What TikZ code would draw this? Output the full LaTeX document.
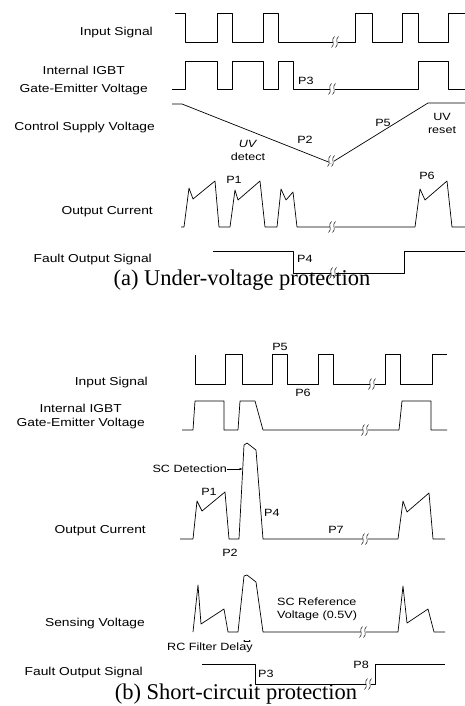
\documentclass[tikz,border=0pt]{standalone}
\usepackage{fontspec}
\usepackage{tikz}
\usetikzlibrary{arrows.meta}
\newfontfamily\lblfont[FakeStretch=1.2]{Liberation Sans}
\newfontfamily\capfont{Liberation Serif}

\begin{document}
\begin{tikzpicture}[
    x=1pt, y=-1pt,
    wave/.style={line width=0.7pt, line join=round},
    sig/.style={font=\lblfont\fontsize{11.5}{14}\selectfont, anchor=east, align=center, inner sep=0pt},
    tag/.style={font=\lblfont\fontsize{10.5}{13}\selectfont, inner sep=0pt},
    capt/.style={font=\capfont\fontsize{22.5}{26}\selectfont, anchor=base, inner sep=0pt},
    tip/.style={line width=0.5pt, -{Latex[length=3pt,width=2.5pt]}},
    brkmark/.pic={
        \fill[white] (-2.5,-1.5) rectangle (2.5,1.5);
        \foreach \dx in {-2,2}
            \draw[line width=0.5pt] (\dx+1.5,-5.5) .. controls (\dx-2.5,-3) and (\dx+2.5,3) .. (\dx-1.5,5.5);
    }
]
\useasboundingbox (0,0) rectangle (465,706);

% (a) under-voltage
\node[sig] (inA) at (153,33) {Input Signal};
\node[sig] (gateA) at (148,81) {Internal IGBT\\[4pt]Gate-Emitter Voltage};
\node[sig] (supA) at (155,128) {Control Supply Voltage};
\node[sig] (curA) at (153,212) {Output Current};
\node[sig] (fltA) at (152,260) {Fault Output Signal};

\draw[wave] (175,13) -- (185,13) -- (185,42) -- (217,42) -- (217,13) -- (232,13) -- (232,42) -- (263,42) -- (263,13) -- (278,13) -- (278,42) -- (355,42) -- (355,13) -- (372,13) -- (372,42) -- (402,42) -- (402,13) -- (418,13) -- (418,42) -- (448,42) -- (448,13) -- (465,13);
\draw[wave] (172,89) -- (185,89) -- (185,61) -- (217,61) -- (217,89) -- (232,89) -- (232,61) -- (263,61) -- (263,89) -- (278,89) -- (278,61) -- (293,61) -- (293,89) -- (418,89) -- (418,61) -- (448,61) -- (448,89) -- (465,89);
\draw[wave] (172,104) -- (182,104) -- (331,163) -- (428,103) -- (465,103);
\draw[wave] (181,227) -- (184,227) -- (189,188) -- (193,199) -- (215,181) -- (219,227) -- (230,227) -- (235,190) -- (238,200) -- (260,181) -- (265,227) -- (277,227) -- (281,189) -- (286,200) -- (293,192) -- (297,227) -- (415,227) -- (420,189) -- (425,200) -- (447,181) -- (452,227) -- (465,227);
\draw[wave] (213,251) -- (293,251) -- (293,273) -- (404,273) -- (404,251) -- (465,251);

\node[tag, anchor=west] (p3A) at (298,81) {P3};
\node[tag, align=center] (uvdet) at (248,150) {\textit{UV}\\detect};
\node[tag] (p2A) at (305,140) {P2};
\node[tag] (p5A) at (383,123) {P5};
\node[tag, align=center] (uvres) at (442,123) {UV\\reset};
\node[tag] (p1A) at (234,180) {P1};
\node[tag] (p6A) at (427,176) {P6};
\node[tag, anchor=west] (p4A) at (297,259) {P4};

\node[capt] (capA) at (242,285) {(a) Under-voltage protection};

% (b) short-circuit
\node[sig] (inB) at (148,383) {Input Signal};
\node[sig] (gateB) at (145,417) {Internal IGBT\\Gate-Emitter Voltage};
\node[sig] (curB) at (146,531) {Output Current};
\node[sig] (senB) at (145,624) {Sensing Voltage};
\node[sig] (fltB) at (143,673) {Fault Output Signal};

\draw[wave] (195,355) -- (195,384) -- (225,384) -- (225,354) -- (242,354) -- (242,384) -- (272,384) -- (272,354) -- (287,354) -- (287,384) -- (318,384) -- (318,354) -- (333,354) -- (333,384) -- (385,384) -- (385,354) -- (400,354) -- (400,384) -- (432,384) -- (432,354) -- (447,354);
\draw[wave] (182,430) -- (193,430) -- (195,401) -- (224,401) -- (224,430) -- (238,430) -- (240,401) -- (255,401) -- (263,430) -- (399,430) -- (402,401) -- (431,401) -- (431,430) -- (447,430);
\draw[wave] (180,539) -- (193,539) -- (197,501) -- (202,511) -- (225,492) -- (229,539) -- (239,539) -- (244,445) -- (247,443) -- (256,450) -- (263,539) -- (398,539) -- (403,501) -- (407,512) -- (429,493) -- (433,539) -- (445,539);
\draw[wave] (193,632) -- (198,585) -- (201,624) -- (224,609) -- (228,632) -- (238,632) -- (244,576) -- (247,575) -- (256,582) -- (263,632) -- (398,632) -- (403,586) -- (407,623) -- (428,609) -- (434,632) -- (445,632);
\draw[wave] (202,664) -- (255,664) -- (255,684) -- (375,684) -- (375,664) -- (445,664);

\node[tag] (p5B) at (280,347) {P5};
\node[tag] (p6B) at (303,393) {P6};
\node[tag, anchor=east] (scdet) at (227,469) {SC Detection};
\coordinate (scedge) at (242.5,469);
\draw[tip] (scdet.east) -- (scedge);
\node[tag] (p1B) at (209,492) {P1};
\node[tag, anchor=west] (p4B) at (264,513) {P4};
\node[tag] (p7B) at (336,530) {P7};
\node[tag] (p2B) at (230,553) {P2};
\node[tag, anchor=west, align=left] (scref) at (277,609) {SC Reference\\Voltage (0.5V)};
\node[tag, anchor=west] (rcdel) at (167,648) {RC Filter Delay};
\coordinate (rcl) at (243,641);
\coordinate (rcr) at (251,641);
\draw[line width=0.4pt, {Latex[length=2pt,width=2pt]}-{Latex[length=2pt,width=2pt]}] (rcl) -- (rcr);
\node[tag, anchor=west] (p3B) at (258,674) {P3};
\node[tag, anchor=east] (p8B) at (369,665) {P8};

\node[capt] (capB) at (236,699.5) {(b) Short-circuit protection};

\foreach \p in {(335,42),(332,89),(331,161),(332,227),(333,273),(372,384),(365,430),(365,539),(363,632),(368,684)}
    \pic at \p {brkmark};
\end{tikzpicture}
\end{document}
